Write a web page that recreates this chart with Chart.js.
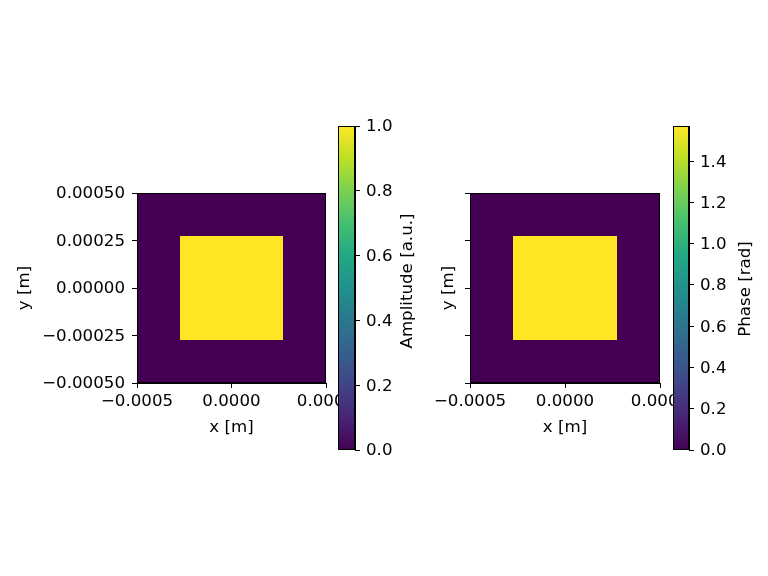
<!DOCTYPE html>
<html>
<head>
<meta charset="utf-8">
<script src="https://cdn.jsdelivr.net/npm/chart.js@4.4.0/dist/chart.umd.min.js"></script>
<style>
  body { margin: 0; background: #fff; }
  #fig { position: relative; width: 768px; height: 576px; overflow: hidden; background: #fff; }
  #fig canvas { position: absolute; }
</style>
</head>
<body>
<div id="fig">
  <canvas id="amp" width="400" height="300" style="left:0px;top:150px"></canvas>
  <canvas id="phase" width="334" height="300" style="left:400px;top:150px"></canvas>
  <canvas id="ampBar" width="110" height="384" style="left:330px;top:96px"></canvas>
  <canvas id="phaseBar" width="110" height="384" style="left:664px;top:96px"></canvas>
</div>
<script>
// grid cell edges (m) and cell values
const xEdges = [-0.0005, -0.000273, 0.000273, 0.0005];
const yEdges = [-0.0005, -0.000273, 0.000273, 0.0005];
const amplitude = [
  [0, 0, 0],
  [0, 1, 0],
  [0, 0, 0]
];
const phase = [
  [0, 0, 0],
  [0, 1.5708, 0],
  [0, 0, 0]
];
const ampMax = 1.0;
const phaseMax = 1.5708;

// tick labels
const xTicks = [-0.0005, 0, 0.0005];
const yTicks = [-0.0005, -0.00025, 0, 0.00025, 0.0005];
const ampTicks = [0, 0.2, 0.4, 0.6, 0.8, 1.0];
const phaseTicks = [0, 0.2, 0.4, 0.6, 0.8, 1.0, 1.2, 1.4];

const FONT = { family: "'DejaVu Sans', sans-serif", size: 16.67 };

// viridis colormap stops
const VIRIDIS = ["#440154", "#482475", "#414487", "#355f8d", "#2a788e",
  "#21918c", "#22a884", "#44bf70", "#7ad151", "#bddf26", "#fde725"];

function hexRgb(h) {
  return [1, 3, 5].map(i => parseInt(h.slice(i, i + 2), 16));
}

function viridis(t) {
  t = Math.max(0, Math.min(1, t));
  const p = t * (VIRIDIS.length - 1);
  const i = Math.min(Math.floor(p), VIRIDIS.length - 2);
  const f = p - i;
  const a = hexRgb(VIRIDIS[i]), b = hexRgb(VIRIDIS[i + 1]);
  const c = a.map((v, k) => Math.round(v + (b[k] - v) * f));
  return `rgb(${c[0]},${c[1]},${c[2]})`;
}

const fmt = (v, d) => v.toFixed(d).replace("-", "\u2212");

const heatmapPlugin = {
  id: "heatmap",
  beforeDatasetsDraw(chart, args, opts) {
    const { ctx, scales: { x, y } } = chart;
    ctx.save();
    opts.values.forEach((row, j) => {
      row.forEach((v, i) => {
        const x0 = Math.round(x.getPixelForValue(xEdges[i]));
        const x1 = Math.round(x.getPixelForValue(xEdges[i + 1]));
        const y0 = Math.round(y.getPixelForValue(yEdges[j]));
        const y1 = Math.round(y.getPixelForValue(yEdges[j + 1]));
        ctx.fillStyle = viridis(v / opts.vmax);
        ctx.fillRect(Math.min(x0, x1), Math.min(y0, y1), Math.abs(x1 - x0), Math.abs(y1 - y0));
      });
    });
    ctx.restore();
  }
};

const colorbarPlugin = {
  id: "colorbar",
  beforeDatasetsDraw(chart, args, opts) {
    const { ctx, chartArea: a, scales: { y } } = chart;
    const g = ctx.createLinearGradient(0, y.getPixelForValue(0), 0, y.getPixelForValue(opts.vmax));
    VIRIDIS.forEach((c, i) => g.addColorStop(i / (VIRIDIS.length - 1), c));
    ctx.save();
    ctx.fillStyle = g;
    ctx.fillRect(a.left, a.top, a.right - a.left, a.bottom - a.top);
    // rotated label
    ctx.fillStyle = "#000";
    ctx.font = `${FONT.size}px ${FONT.family}`;
    ctx.textAlign = "center";
    ctx.textBaseline = "middle";
    ctx.translate(opts.labelX, opts.labelY);
    ctx.rotate(-Math.PI / 2);
    ctx.fillText(opts.label, 0, 0);
    ctx.restore();
  }
};

// black box round the plot area
const framePlugin = {
  id: "frame",
  afterDatasetsDraw(chart) {
    const { ctx, chartArea: a } = chart;
    ctx.save();
    ctx.strokeStyle = "#000";
    ctx.lineWidth = 1;
    ctx.strokeRect(Math.round(a.left) + 0.5, Math.round(a.top) + 0.5,
      Math.round(a.right - a.left) - 1, Math.round(a.bottom - a.top) - 1);
    ctx.restore();
  }
};

const axisGrid = { display: true, drawOnChartArea: false, drawTicks: true, tickLength: 5, color: "#000", lineWidth: 1 };
const axisBorder = { display: true, color: "#000", width: 1 };

function panelChart(id, values, vmax, yLeftWidth, yTitlePad, showYLabels) {
  return new Chart(document.getElementById(id), {
    type: "scatter",
    data: { datasets: [{ data: [] }] },
    options: {
      responsive: false,
      animation: false,
      devicePixelRatio: 1,
      layout: { padding: { top: 43, right: 74, bottom: 0, left: 0 } },
      plugins: {
        legend: { display: false },
        tooltip: { enabled: false },
        heatmap: { values: values, vmax: vmax }
      },
      scales: {
        x: {
          type: "linear",
          min: -0.0005,
          max: 0.0005,
          afterBuildTicks: s => { s.ticks = xTicks.map(v => ({ value: v })); },
          afterFit: s => { s.height = 67; },
          ticks: { font: FONT, color: "#000", padding: 4, maxRotation: 0, callback: v => fmt(v, 4) },
          grid: axisGrid,
          border: axisBorder,
          title: { display: true, text: "x [m]", font: FONT, color: "#000", padding: { top: 0, bottom: 12 } }
        },
        y: {
          type: "linear",
          min: -0.0005,
          max: 0.0005,
          afterBuildTicks: s => { s.ticks = yTicks.map(v => ({ value: v })); },
          afterFit: s => { s.width = yLeftWidth; },
          ticks: { font: FONT, color: "#000", padding: 7, labelOffset: 1, callback: v => showYLabels ? fmt(v, 5) : "" },
          grid: axisGrid,
          border: axisBorder,
          title: { display: true, text: "y [m]", font: FONT, color: "#000", padding: { top: yTitlePad, bottom: 0 } }
        }
      }
    },
    plugins: [heatmapPlugin, framePlugin]
  });
}

function colorbarChart(id, vmax, ticks, label, padLeft, barWidth, labelX, labelY) {
  return new Chart(document.getElementById(id), {
    type: "scatter",
    data: { datasets: [{ data: [] }] },
    options: {
      responsive: false,
      animation: false,
      devicePixelRatio: 1,
      layout: { padding: { top: 30, right: 0, bottom: 30, left: padLeft } },
      plugins: {
        legend: { display: false },
        tooltip: { enabled: false },
        colorbar: { vmax: vmax, label: label, labelX: labelX, labelY: labelY }
      },
      scales: {
        x: { type: "linear", min: 0, max: 1, display: false },
        y: {
          type: "linear",
          position: "right",
          min: 0,
          max: vmax,
          afterBuildTicks: s => { s.ticks = ticks.map(v => ({ value: v })); },
          afterFit: s => { s.width = 110 - padLeft - barWidth; },
          ticks: { font: FONT, color: "#000", padding: 6, labelOffset: 1, callback: v => v.toFixed(1) },
          grid: axisGrid,
          border: axisBorder
        }
      }
    },
    plugins: [colorbarPlugin, framePlugin]
  });
}

panelChart("amp", amplitude, ampMax, 137, 15, true);
panelChart("phase", phase, phaseMax, 70, 39, false);
colorbarChart("ampBar", ampMax, ampTicks, "Amplitude [a.u.]", 8, 17, 78, 185);
colorbarChart("phaseBar", phaseMax, phaseTicks, "Phase [rad]", 9, 16, 82, 193);
</script>
</body>
</html>
